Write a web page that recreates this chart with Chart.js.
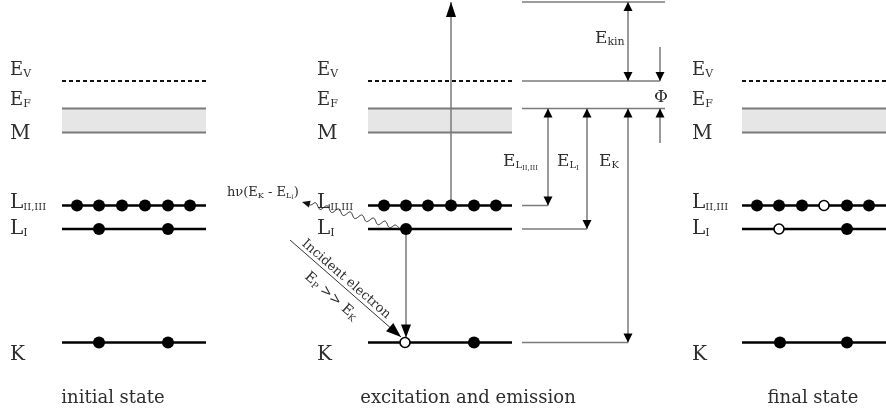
<!DOCTYPE html>
<html>
<head>
<meta charset="utf-8">
<script src="https://cdn.jsdelivr.net/npm/chart.js@4/dist/chart.umd.min.js"></script>
<style>
  html, body { margin: 0; padding: 0; background: #ffffff; }
  canvas { display: block; }
</style>
</head>
<body>
<canvas id="diagram" width="886" height="411"></canvas>
<script>
// Schematic energy axis (downwards = more tightly bound), horizontal layout axis.
const levelNames   = ['E_V', 'E_F', 'M', 'L_II,III', 'L_I', 'K'];
const levelEnergy  = [81, 108.5, 132.5, 205.5, 229, 342.5];

// The three stages of the process.
const stateNames = ['initial state', 'excitation and emission', 'final state'];
const stateFrom  = [62, 368, 742];
const stateTo    = [206, 512, 886];

// Electron occupation of the core levels in each stage (filled = electron, hole = vacancy).
const l23Electrons = [[77, 99, 122, 145, 168, 190], [384, 406, 428, 451, 474, 496], [757, 779, 802, 847, 869]];
const l23Holes     = [[], [], [824]];
const l1Electrons  = [[99, 168], [406], [847]];
const l1Holes      = [[], [], [779]];
const kElectrons   = [[99, 168], [474], [780, 847]];
const kHoles       = [[], [405], []];

// Reference ladder for the energies on the right of the middle stage.
const vacuumTop      = 2;
const ladderFrom     = 522;
const ladderTo       = [665, 660, 665, 548, 587, 628];   // top, E_V, E_F, L_II,III, L_I, K
const bindingNames   = ['E_LII,III', 'E_LI', 'E_K'];
const bindingX       = [548, 587, 628];

const SERIF = '"DejaVu Serif", "Liberation Serif", serif';
const INK = '#2e2e2e';
const GREY = '#7a7a7a';

// ---------- datasets ----------
const datasets = [];
const seg = (x0, x1, y, extra) => Object.assign({
  type: 'line',
  data: [{ x: x0, y: y }, { x: x1, y: y }],
  pointRadius: 0,
  borderCapStyle: 'butt',
  fill: false,
  order: 5
}, extra);

stateFrom.forEach((x0, i) => {
  const x1 = stateTo[i];
  // valence band (M) shaded between E_F and band bottom
  datasets.push(seg(x0, x1, levelEnergy[1], {
    borderColor: GREY, borderWidth: 2,
    fill: { value: levelEnergy[2] }, backgroundColor: '#e6e6e6', order: 6
  }));
  datasets.push(seg(x0, x1, levelEnergy[2], { borderColor: GREY, borderWidth: 2 }));
  // vacuum level, dashed
  datasets.push(seg(x0, x1, levelEnergy[0], { borderColor: '#111', borderWidth: 2, borderDash: [4, 3] }));
  // core levels
  [3, 4, 5].forEach(k => datasets.push(seg(x0, x1, levelEnergy[k], { borderColor: '#000', borderWidth: 2.5 })));
});

// reference ladder lines
[vacuumTop, levelEnergy[0], levelEnergy[1], levelEnergy[3], levelEnergy[4], levelEnergy[5]].forEach((y, i) => {
  datasets.push(seg(ladderFrom, ladderTo[i], y, { borderColor: GREY, borderWidth: 1.5 }));
});
// ladder verticals (arrow heads are added by the plugin)
const vline = (x, y0, y1) => ({
  type: 'line', data: [{ x: x, y: y0 }, { x: x, y: y1 }],
  pointRadius: 0, borderColor: GREY, borderWidth: 1.5, fill: false, order: 5
});
datasets.push(vline(628, vacuumTop, levelEnergy[0]));          // E_kin
datasets.push(vline(660, 47, levelEnergy[0]));                 // Phi, upper
datasets.push(vline(660, levelEnergy[1], 143));                // Phi, lower
bindingX.forEach((x, i) => datasets.push(vline(x, levelEnergy[1], levelEnergy[3 + i])));
// photo-excited electron leaving L_II,III and L_I -> K transition
datasets.push(vline(451, levelEnergy[3], vacuumTop));
datasets.push(vline(406, levelEnergy[4], levelEnergy[5] - 5));
// incident electron
datasets.push({
  type: 'line', data: [{ x: 290, y: 240 }, { x: 401, y: 337 }],
  pointRadius: 0, borderColor: '#333', borderWidth: 1, fill: false, order: 5
});

const dots = (xs, y, hole) => ({
  type: 'scatter',
  data: xs.map(x => ({ x: x, y: y })),
  pointRadius: hole ? 5 : 6,
  pointHoverRadius: hole ? 5 : 6,
  pointBackgroundColor: hole ? '#ffffff' : '#000000',
  pointBorderColor: '#000000',
  pointBorderWidth: hole ? 1.6 : 0,
  showLine: false,
  order: 1
});
for (let i = 0; i < 3; i++) {
  datasets.push(dots(l23Electrons[i], levelEnergy[3], false));
  datasets.push(dots(l23Holes[i], levelEnergy[3], true));
  datasets.push(dots(l1Electrons[i], levelEnergy[4], false));
  datasets.push(dots(l1Holes[i], levelEnergy[4], true));
  datasets.push(dots(kElectrons[i], levelEnergy[5], false));
  datasets.push(dots(kHoles[i], levelEnergy[5], true));
}

// ---------- text and arrow heads ----------
function rich(ctx, x, y, parts, align) {
  let w = 0;
  parts.forEach(p => { ctx.font = p[1] + 'px ' + SERIF; w += ctx.measureText(p[0]).width; });
  let cx = align === 'center' ? x - w / 2 : x;
  parts.forEach(p => {
    ctx.font = p[1] + 'px ' + SERIF;
    ctx.fillText(p[0], cx, y + (p[2] || 0));
    cx += ctx.measureText(p[0]).width;
  });
}

function head(ctx, x1, y1, x2, y2, len, half, color) {
  const a = Math.atan2(y2 - y1, x2 - x1);
  ctx.save();
  ctx.translate(x2, y2);
  ctx.rotate(a);
  ctx.beginPath();
  ctx.moveTo(0, 0);
  ctx.lineTo(-len, -half);
  ctx.lineTo(-len, half);
  ctx.closePath();
  ctx.fillStyle = color || '#000';
  ctx.fill();
  ctx.restore();
}

const levelLabels = [
  [['E', 18], ['V', 11, 2]],
  [['E', 18], ['F', 11, 2]],
  [['M', 20]],
  [['L', 20], ['II,III', 10, 2]],
  [['L', 20], ['I', 11, 2]],
  [['K', 20]]
];
const labelShift = [-6.5, -4, 6.5, 2.5, 5, 17.5];
const labelColumn = [10, 317, 692];

const annotate = {
  id: 'annotate',
  afterDatasetsDraw(chart) {
    const ctx = chart.ctx;
    const X = v => chart.scales.x.getPixelForValue(v);
    const Y = v => chart.scales.y.getPixelForValue(v);
    ctx.save();
    ctx.fillStyle = INK;
    ctx.textBaseline = 'alphabetic';

    // level labels for each stage
    labelColumn.forEach(cx => {
      levelNames.forEach((n, k) => rich(ctx, cx, Y(levelEnergy[k] + labelShift[k]), levelLabels[k], 'left'));
    });
    // stage captions
    stateNames.forEach((s, i) => {
      const centre = [113, 468, 813][i];
      rich(ctx, centre, 403, [[s, 18]], 'center');
    });

    // arrow heads
    const L = 9, H = 4.5;
    head(ctx, X(628), Y(20), X(628), Y(vacuumTop), L, H);
    head(ctx, X(628), Y(60), X(628), Y(levelEnergy[0]), L, H);
    head(ctx, X(660), Y(60), X(660), Y(levelEnergy[0]), L, H);
    head(ctx, X(660), Y(130), X(660), Y(levelEnergy[1]), L, H);
    bindingX.forEach((x, i) => {
      head(ctx, X(x), Y(130), X(x), Y(levelEnergy[1]), L, H);
      head(ctx, X(x), Y(levelEnergy[3 + i] - 20), X(x), Y(levelEnergy[3 + i]), L, H);
    });
    head(ctx, X(451), Y(40), X(451), Y(vacuumTop), 15, 5);
    head(ctx, X(406), Y(300), X(406), Y(levelEnergy[5] - 5), 13, 5);
    head(ctx, X(290), Y(240), X(401), Y(337), 15, 5.5);

    // emitted photon: wavy line from the L_I electron
    const p0 = { x: X(399), y: Y(227.5) }, p1 = { x: X(308), y: Y(203.5) };
    const dx = p1.x - p0.x, dy = p1.y - p0.y, len = Math.hypot(dx, dy);
    const ux = dx / len, uy = dy / len, nx = -uy, ny = ux;
    ctx.beginPath();
    for (let t = 0; t <= len; t += 0.5) {
      const env = Math.min(1, t / 6, (len - t) / 6);
      const o = 2.6 * env * Math.sin(2 * Math.PI * t / 12);
      const px = p0.x + ux * t + nx * o, py = p0.y + uy * t + ny * o;
      if (t === 0) ctx.moveTo(px, py); else ctx.lineTo(px, py);
    }
    ctx.strokeStyle = '#222';
    ctx.lineWidth = 1;
    ctx.stroke();
    head(ctx, p0.x, p0.y, X(302), Y(202), 8, 3.5, '#111');
    rich(ctx, X(227), Y(196), [['hν(E', 13], ['K', 8, 2], [' - E', 13], ['L', 8, 2], ['I', 6, 3], [')', 13]], 'left');

    // ladder labels
    rich(ctx, X(595), Y(43), [['E', 17], ['kin', 11, 2]], 'left');
    ctx.font = '17px ' + SERIF;
    ctx.textAlign = 'center';
    ctx.fillText('Φ', X(661), Y(102));
    ctx.textAlign = 'left';
    rich(ctx, X(503), Y(166), [['E', 17], ['L', 10, 2], ['II,III', 7, 4]], 'left');
    rich(ctx, X(557), Y(166), [['E', 17], ['L', 10, 2], ['I', 7, 4]], 'left');
    rich(ctx, X(599), Y(166), [['E', 17], ['K', 10, 2]], 'left');

    // incident electron annotation along its path
    const a0 = { x: X(290), y: Y(240) }, a1 = { x: X(401), y: Y(337) };
    const ang = Math.atan2(a1.y - a0.y, a1.x - a0.x);
    ctx.save();
    ctx.translate(a0.x + Math.cos(ang) * 68, a0.y + Math.sin(ang) * 68);
    ctx.rotate(ang);
    rich(ctx, 0, -4, [['Incident electron', 13]], 'center');
    rich(ctx, 0, 19, [['E', 14], ['P', 9, 2], [' >> E', 14], ['K', 9, 2]], 'center');
    ctx.restore();

    ctx.restore();
  }
};

new Chart(document.getElementById('diagram'), {
  type: 'scatter',
  data: { datasets: datasets },
  options: {
    responsive: false,
    animation: false,
    events: [],
    layout: { padding: 0, autoPadding: false },
    plugins: { legend: { display: false }, tooltip: { enabled: false } },
    elements: { line: { tension: 0 } },
    datasets: { line: { clip: false }, scatter: { clip: false } },
    scales: {
      x: { type: 'linear', min: 0, max: 886, display: false },
      y: { type: 'linear', min: 0, max: 411, reverse: true, display: false }
    }
  },
  plugins: [annotate]
});
</script>
</body>
</html>
